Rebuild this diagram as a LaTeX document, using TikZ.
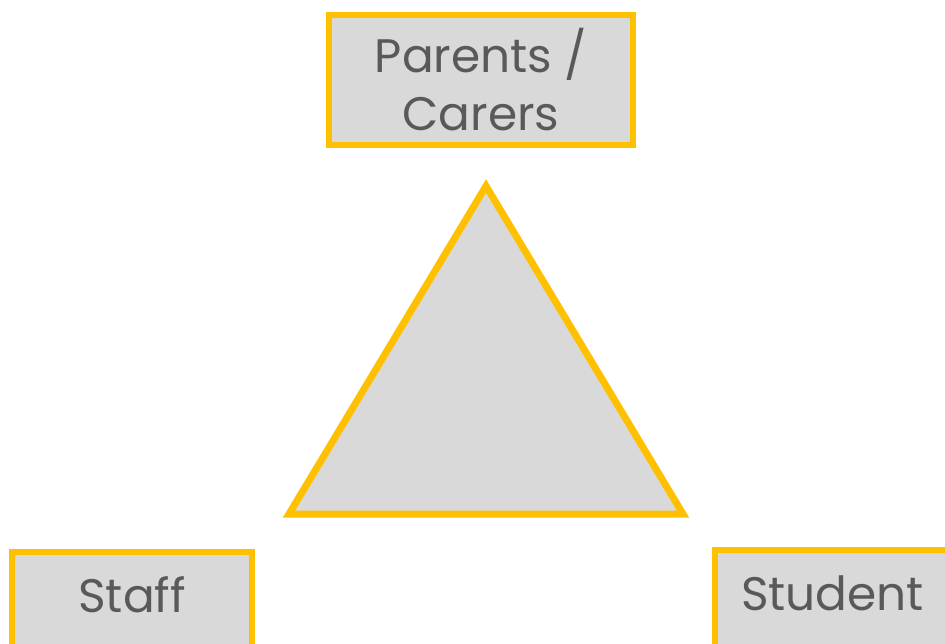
\documentclass[tikz,border=0pt]{standalone}
\usepackage{fontspec}
\setmainfont{Poppins}
\usetikzlibrary{calc}
\definecolor{boxyellow}{HTML}{FFC000}
\definecolor{boxgrey}{HTML}{D9D9D9}
\definecolor{textgrey}{HTML}{595959}
\tikzset{
  rolebox/.style={draw=boxyellow,fill=boxgrey,line width=6pt,text=textgrey,
    inner sep=0pt,font=\fontsize{47}{58}\selectfont},
}
\def\rolebox{\node[rolebox]}

\begin{document}
\begin{tikzpicture}[x=1pt,y=-1pt]
\useasboundingbox (0,0) rectangle (945,644);
\rolebox[minimum width=304pt,minimum height=130pt,align=center] (parents) at (481,80) {Parents /\\Carers};
\rolebox[anchor=base,minimum width=240pt,text height=60pt,text depth=100pt] (staff) at (132,612) {Staff};
\rolebox[anchor=base west,text height=60pt,text depth=100pt] (student) at (712,610) {\hspace*{26pt}Student\hspace*{60pt}};
\coordinate (apex) at (486,186);
\coordinate (right) at (683,514);
\coordinate (left) at (289,514);
\draw[draw=boxyellow,fill=boxgrey,line width=7pt,line join=miter] (apex) -- (right) -- (left) -- cycle;
\end{tikzpicture}
\end{document}
